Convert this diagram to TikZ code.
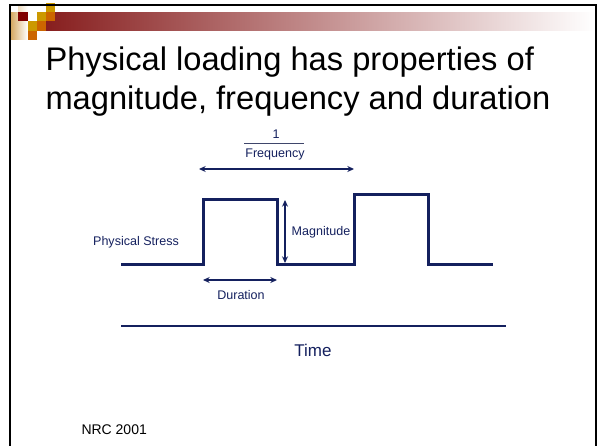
\documentclass[tikz,border=0pt]{standalone}
\usepackage{fontspec}
\setmainfont{Liberation Sans}
\usetikzlibrary{arrows.meta}

\definecolor{navy}{RGB}{20,32,94}
\definecolor{barred}{RGB}{135,30,30}
\definecolor{sqred}{RGB}{128,0,0}
\definecolor{sqgold}{RGB}{204,153,0}
\definecolor{sqorange}{RGB}{204,102,0}
\definecolor{sqbeige}{RGB}{214,170,100}

\tikzset{every picture/.style={line width=0.75pt}}
\tikzset{
  wave/.style={draw=navy, line width=2.25pt, line join=miter},
  dimarrow/.style={draw=navy, line width=1.1pt, {Stealth[length=5pt,width=4.5pt]}-{Stealth[length=5pt,width=4.5pt]}},
  smalltext/.style={text=navy, inner sep=0.75pt, font=\fontsize{9.4}{11}\selectfont},
  titletext/.style={anchor=base west, inner sep=0pt, font=\fontsize{24.5}{29}\selectfont},
}

\begin{document}
\begin{tikzpicture}[x=0.75pt,y=0.75pt,yscale=-1,xscale=1]
\useasboundingbox (0,0) rectangle (605,445);

%Header bar
\shade [left color=barred, right color=white] (45,12.3) rectangle (595,30.7);
\shade [left color=sqbeige, right color=white] (11,12.3) rectangle (27.7,39.5);
\shade [left color=sqbeige!40, right color=white] (18.3,5.5) rectangle (27.7,12.3);
%Squares
\fill [sqred]    (18.3,12.3) rectangle ++(9.2,9.2);
\fill [sqgold]   (27.5,21.5) rectangle ++(9.2,9.2);
\fill [sqorange] (27.5,30.7) rectangle ++(9.2,9.2);
\fill [sqgold]   (36.7,12.3) rectangle ++(9.2,9.2);
\fill [sqorange] (36.7,21.5) rectangle ++(9.2,9.2);
\fill [sqgold]   (45.9,3.1) rectangle ++(9.2,9.2);
\fill [sqorange] (45.9,12.3) rectangle ++(9.2,9.2);
%Frame
\draw [line width=1.5pt] (9.5,450) -- (9.5,5) -- (595.5,5) -- (595.5,450);

% Text Node
\node (title1) [titletext] at (45,71) {Physical loading has properties of};
% Text Node
\node (title2) [titletext] at (45,110) {magnitude, frequency and duration};

%Waveform
\coordinate (w0) at (121,264);
\coordinate (rise1) at (203,264);
\coordinate (top1) at (203,199);
\coordinate (fall1) at (277,199);
\coordinate (low1) at (277,264);
\coordinate (rise2) at (354,264);
\coordinate (top2) at (354,194);
\coordinate (fall2) at (428,194);
\coordinate (low2) at (428,264);
\coordinate (w1) at (493,264);
\draw [wave] (w0) -- (rise1) -- (top1) -- (fall1) -- (low1) -- (rise2) -- (top2) -- (fall2) -- (low2) -- (w1);

%Dimension arrows
\coordinate (fq-l) at (199,169);
\coordinate (fq-r) at (354,169);
\draw [dimarrow] (fq-l) -- (fq-r);
\coordinate (mg-t) at (285,200);
\coordinate (mg-b) at (285,263);
\draw [dimarrow] (mg-t) -- (mg-b);
\coordinate (du-l) at (203,280);
\coordinate (du-r) at (277,280);
\draw [dimarrow] (du-l) -- (du-r);

% Text Node
\node (one) [smalltext] at (276,134) {1};
% Text Node
\node (freq) [smalltext] at (275,154) {Frequency};
\coordinate (fb-l) at (244,143.5);
\coordinate (fb-r) at (304,143.5);
\draw [draw=navy!60!gray, line width=0.75pt] (fb-l) -- (fb-r);
% Text Node
\node (stress) [smalltext] at (136,242) {Physical Stress};
% Text Node
\node (magn) [smalltext] at (321,232) {Magnitude};
% Text Node
\node (dur) [smalltext] at (241,295) {Duration};

%Time axis
\coordinate (tm-l) at (121,326);
\coordinate (tm-r) at (506,326);
\draw [draw=navy, line width=0.8pt] (tm-l) -- (tm-r);
% Text Node
\node (time) [smalltext, font=\fontsize{12.75}{15}\selectfont] at (313,350) {Time};
% Text Node
\node (nrc) [anchor=west, inner sep=0pt, font=\fontsize{10.5}{12}\selectfont] at (81,430) {NRC 2001};

\end{tikzpicture}
\end{document}
